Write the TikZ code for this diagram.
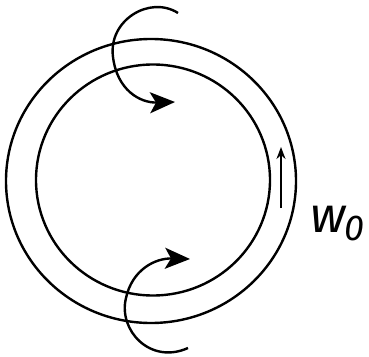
\documentclass[tikz,border=0pt]{standalone}
\usepackage{fontspec}
\setmainfont{Fira Sans}
\usetikzlibrary{arrows.meta}

\begin{document}
\begin{tikzpicture}[
  x=1pt, y=-1pt,
  line width=2.4pt,
  ring/.style={draw, line width=2.4pt},
  curl/.style={draw, ->, line width=2.4pt},
  flow/.style={draw, -{Stealth[length=12pt,width=9pt]}, line width=2pt},
  lbl/.style={inner sep=0pt, anchor=base west},
  >={Stealth[length=25pt,width=21pt,inset=6pt]},
]
  \useasboundingbox (0,0) rectangle (369,356);

  % the two rings
  \draw[ring] (151,181) ellipse [x radius=145, y radius=142];
  \draw[ring] (153,180) ellipse [x radius=117, y radius=115.5];

  % curls over the top and under the bottom
  \draw[curl] (178,13) .. controls (150,-5) and (108,20) .. (113,57)
    .. controls (117,90) and (140,103) .. (175,102);
  \draw[curl] (188,348) .. controls (150,365) and (118,330) .. (126,298)
    .. controls (132,270) and (155,258) .. (190,259);

  % flow in the gap
  \coordinate (low) at (281,208);
  \coordinate (high) at (281,147);
  \draw[flow] (low) -- (high);

  \node[lbl] (w0) at (309,232) {\fontsize{50}{50}\selectfont\itshape w\kern-1pt\raisebox{-8pt}{\fontsize{36}{36}\selectfont 0}};
\end{tikzpicture}
\end{document}
